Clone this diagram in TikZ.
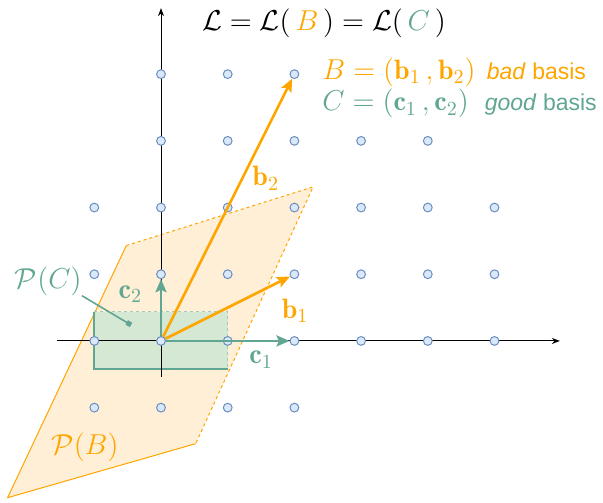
\documentclass[tikz,border=0pt]{standalone}
\usepackage{amsmath, amssymb}
\usepackage{fontspec}
\newfontfamily\labelsans{Liberation Sans}
\usetikzlibrary{arrows.meta, positioning}

\definecolor{badorange}{RGB}{255,165,0}
\definecolor{goodgreen}{RGB}{96,166,146}
\definecolor{dotfill}{HTML}{DAE8FC}
\definecolor{dotline}{HTML}{6C8EBF}
\definecolor{pbfill}{HTML}{FFEFD6}
\definecolor{pcfill}{HTML}{D5E8D4}

\tikzset{
    lattice/.style={circle, draw=dotline, fill=dotfill, line width=0.5pt, inner sep=0pt, minimum size=4.4pt},
    mathlbl/.style={font=\fontsize{14}{16}\selectfont, inner sep=0pt},
    sanslbl/.style={font=\labelsans\fontsize{11.5}{14}\selectfont, inner sep=0pt},
    badvec/.style={badorange, line width=1.3pt, -{Stealth[length=6.5pt, width=5.5pt, inset=1.2pt]}},
    goodvec/.style={goodgreen, line width=1.3pt, -{Stealth[length=6.5pt, width=5.5pt, inset=1.2pt]}},
}

\begin{document}
\begin{tikzpicture}[x=33.35pt, y=33.35pt]
    \useasboundingbox (-2.414,-2.429) rectangle (6.627,5.112);

    % Paralelogramo P(B) y rectangulo P(C)
    \coordinate (pb-sw) at (-2.30,-2.35);
    \coordinate (pb-nw) at (-0.52,1.43);
    \coordinate (pb-ne) at (2.28,2.31);
    \coordinate (pb-se) at (0.52,-1.54);
    \fill[pbfill] (pb-sw) -- (pb-nw) -- (pb-ne) -- (pb-se) -- cycle;
    \fill[pcfill] (-1,-0.42) rectangle (1,0.44);
    \draw[badorange, line width=0.5pt] (pb-nw) -- (pb-sw) -- (pb-se);
    \draw[badorange, line width=0.5pt, dash pattern=on 1.5pt off 1.5pt] (pb-nw) -- (pb-ne) -- (pb-se);
    \draw[goodgreen, line width=1pt] (-1,0.44) -- (-1,-0.42) -- (1,-0.42);
    \draw[goodgreen!60, line width=0.5pt, dash pattern=on 1.5pt off 1.5pt] (-1,0.44) -- (1,0.44) -- (1,-0.42);

    % Ejes
    \draw[line width=0.5pt, -{Stealth[length=4pt, width=3pt]}] (-1.56,0) -- (5.98,0);
    \draw[line width=0.5pt, -{Stealth[length=4pt, width=3pt]}] (0,-0.54) -- (0,4.99);

    % Puntos de la red
    \foreach \y/\xa/\xb in {4/0/2, 3/0/4, 2/-1/5, 1/-1/5, 0/-1/5, -1/-1/2}
        \foreach \x in {\xa,...,\xb}
            \node[lattice] (p\x\y) at (\x,\y) {};

    % Vectores de las bases
    \draw[badvec] (p00) -- (p21);
    \draw[badvec] (p00) -- (p24);
    \draw[goodvec] (p00) -- (p20);
    \draw[goodvec] (p00) -- (p01);

    \node[mathlbl, badorange] (lb1) at (2.01,0.45) {$\mathbf{b}_1$};
    \node[mathlbl, badorange] (lb2) at (1.57,2.44) {$\mathbf{b}_2$};
    \node[mathlbl, goodgreen] (lc1) at (1.50,-0.28) {$\mathbf{c}_1$};
    \node[mathlbl, goodgreen] (lc2) at (-0.46,0.70) {$\mathbf{c}_2$};

    % Textos
    \node[mathlbl, anchor=base west] (title) at (0.61,4.66)
        {$\mathcal{L} = \mathcal{L}(\,{\color{badorange}B}\,) = \mathcal{L}(\,{\color{goodgreen}C}\,)$};
    \node[mathlbl, badorange, anchor=base west] (bbasis) at (2.414,3.92) {$B = (\mathbf{b}_1\,, \mathbf{b}_2)$};
    \node[sanslbl, badorange, anchor=base west] (bbad) at (4.88,3.92) {\textit{bad} basis};
    \node[mathlbl, goodgreen, anchor=base west] (cbasis) at (2.414,3.45) {$C = (\mathbf{c}_1\,, \mathbf{c}_2)$};
    \node[sanslbl, goodgreen, anchor=base west] (cgood) at (4.85,3.45) {\textit{good} basis};

    \node[mathlbl, goodgreen] (pclbl) at (-1.69,0.90) {$\mathcal{P}(C)$};
    \coordinate (pcdot) at (-0.45,0.24);
    \draw[goodgreen, line width=0.8pt, -{Square[length=2.5pt, width=2.5pt]}] (pclbl.south east) -- (pcdot);
    \node[mathlbl, badorange] (pblbl) at (-1.14,-1.60) {$\mathcal{P}(B)$};
\end{tikzpicture}
\end{document}
